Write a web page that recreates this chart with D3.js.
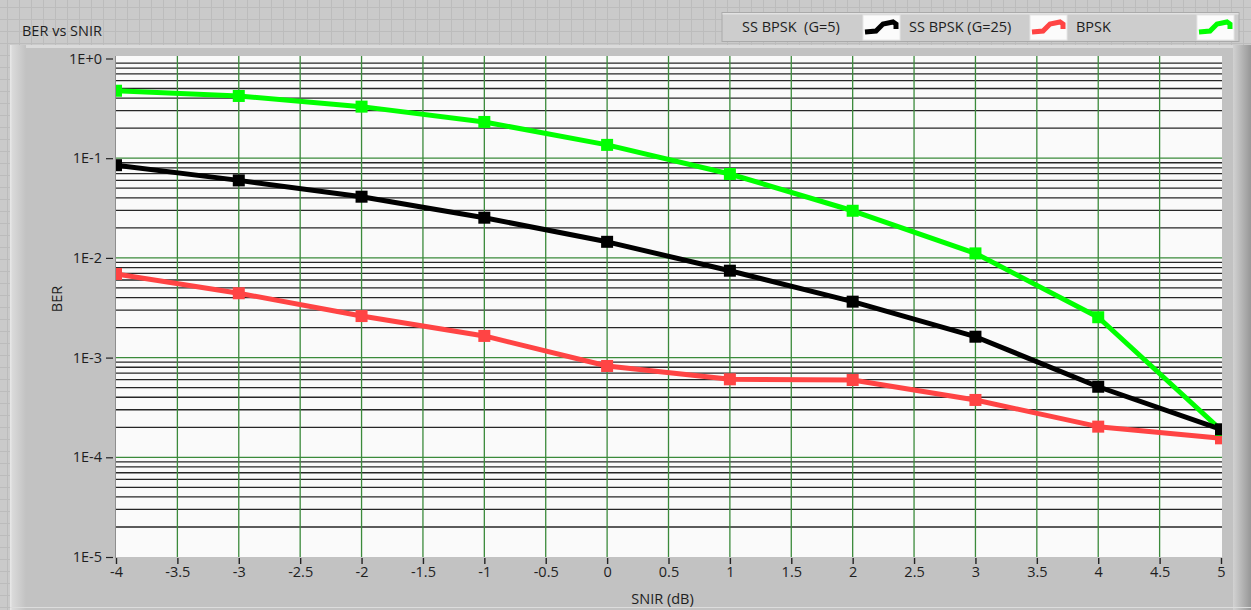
<!DOCTYPE html>
<html>
<head>
<meta charset="utf-8">
<script src="https://cdn.jsdelivr.net/npm/d3@7"></script>
<style>
  html, body { margin: 0; padding: 0; background: #c9c9c9; overflow: hidden; }
  svg { display: block; font-family: "Open Sans", "Noto Sans", sans-serif; }
  svg text { white-space: pre; }
</style>
</head>
<body>
<svg id="chart" width="1251" height="610"></svg>
<script>
// SNIR sweep (dB) and measured bit error rates
const snir = [-4, -3, -2, -1, 0, 1, 2, 3, 4, 5];
const berGain5  = [0.0851, 0.0599, 0.0411, 0.0253, 0.0145, 0.00744, 0.00364, 0.00162, 0.00051, 0.000191];
const berGain25 = [0.0069, 0.00442, 0.00261, 0.00165, 0.000824, 0.000606, 0.000596, 0.000376, 0.000203, 0.000155];
const berBpsk   = [0.475, 0.421, 0.329, 0.231, 0.136, 0.0694, 0.0297, 0.0111, 0.00254, 0.000188];

const seriesNames  = ["SS BPSK  (G=5)", "SS BPSK (G=25)", "BPSK"];
const seriesColors = ["#000000", "#ff4444", "#00ff00"];

const xTickValues = [-4, -3.5, -3, -2.5, -2, -1.5, -1, -0.5, 0, 0.5, 1, 1.5, 2, 2.5, 3, 3.5, 4, 4.5, 5];
const xTickLabels = ["-4", "-3.5", "-3", "-2.5", "-2", "-1.5", "-1", "-0.5", "0", "0.5", "1", "1.5", "2", "2.5", "3", "3.5", "4", "4.5", "5"];
const yTickValues = [1, 1e-1, 1e-2, 1e-3, 1e-4, 1e-5];
const yTickLabels = ["1E+0", "1E-1", "1E-2", "1E-3", "1E-4", "1E-5"];

const chartTitle = "BER vs SNIR";
const xTitle = "SNIR (dB)";
const yTitle = "BER";

const W = 1251, H = 610;
const plot = { left: 116, right: 1221, top: 58.5, bottom: 557 };
const FONT = 14.5;

const svg = d3.select("#chart");
const defs = svg.append("defs");

// ---- panel background with its alignment grid ----
svg.append("rect").attr("width", W).attr("height", H).attr("fill", "#cacaca");
const panelGrid = svg.append("g").attr("stroke", "#bcbcbc").attr("stroke-width", 1);
for (let gx = 7.5; gx < W; gx += 12) panelGrid.append("line").attr("x1", gx).attr("x2", gx).attr("y1", 0).attr("y2", H);
for (let gy = 7.5; gy < H; gy += 12) panelGrid.append("line").attr("x1", 0).attr("x2", W).attr("y1", gy).attr("y2", gy);

// ---- graph frame ----
const leftGrad = defs.append("linearGradient").attr("id", "leftBevel").attr("x1", 0).attr("x2", 1).attr("y1", 0).attr("y2", 0);
leftGrad.append("stop").attr("offset", 0).attr("stop-color", "#dedede");
leftGrad.append("stop").attr("offset", 1).attr("stop-color", "#c2c2c2");
const rightGrad = defs.append("linearGradient").attr("id", "rightBevel").attr("x1", 0).attr("x2", 1).attr("y1", 0).attr("y2", 0);
rightGrad.append("stop").attr("offset", 0).attr("stop-color", "#d2d2d2");
rightGrad.append("stop").attr("offset", 0.25).attr("stop-color", "#c4c4c4");
rightGrad.append("stop").attr("offset", 1).attr("stop-color", "#979797");

svg.append("rect").attr("x", 10).attr("y", 45).attr("width", W - 10).attr("height", H - 45).attr("fill", "#c2c2c2");
svg.append("rect").attr("x", 10).attr("y", 45).attr("width", W - 10).attr("height", 3).attr("fill", "#dadada");
svg.append("rect").attr("x", 10).attr("y", 45).attr("width", 16).attr("height", H - 45).attr("fill", "url(#leftBevel)");
svg.append("rect").attr("x", 10).attr("y", 45).attr("width", 1.5).attr("height", H - 45).attr("fill", "#e6e6e6");
svg.append("rect").attr("x", 1233).attr("y", 45).attr("width", 18).attr("height", H - 45).attr("fill", "url(#rightBevel)");
svg.append("rect").attr("x", 10).attr("y", H - 3).attr("width", W - 10).attr("height", 1).attr("fill", "#dcdcdc");

// ---- title label ----
svg.append("text").attr("x", 22).attr("y", 36)
  .attr("font-size", FONT).attr("fill", "#1e1e1e").text(chartTitle);

// ---- scales ----
const x = d3.scaleLinear().domain([-4, 5]).range([plot.left, plot.right]);
const y = d3.scaleLog().domain([1e-5, 1]).range([plot.bottom, plot.top]);

// ---- plot area ----
svg.append("rect")
  .attr("x", plot.left).attr("y", 56)
  .attr("width", plot.right - plot.left + 1).attr("height", plot.bottom - 56)
  .attr("fill", "#fafafa");
svg.append("line")
  .attr("x1", plot.left - 0.5).attr("x2", plot.left - 0.5)
  .attr("y1", 56).attr("y2", plot.bottom + 1)
  .attr("stroke", "#8e8e8e").attr("stroke-width", 1);

// minor log grid (2..9 within each decade)
const isDecade = v => Math.abs(Math.log10(v) - Math.round(Math.log10(v))) < 1e-9;
const minorVals = y.ticks().filter(v => !isDecade(v));
svg.append("g").selectAll("line").data(minorVals).join("line")
  .attr("x1", plot.left).attr("x2", plot.right + 1)
  .attr("y1", d => y(d)).attr("y2", d => y(d))
  .attr("stroke", "#262626").attr("stroke-width", 1.3);

// major grid: decades and half-dB steps
const gridGreen = "#3b8a3b";
svg.append("g").selectAll("line").data(yTickValues.slice(1, -1)).join("line")
  .attr("x1", plot.left).attr("x2", plot.right + 1)
  .attr("y1", d => y(d)).attr("y2", d => y(d))
  .attr("stroke", gridGreen).attr("stroke-width", 1.3);
svg.append("g").selectAll("line").data(xTickValues.slice(1, -1)).join("line")
  .attr("x1", d => x(d)).attr("x2", d => x(d))
  .attr("y1", 56).attr("y2", plot.bottom)
  .attr("stroke", gridGreen).attr("stroke-width", 1.3);

// ---- axes ----
const xAxis = d3.axisBottom(x)
  .tickValues(xTickValues)
  .tickFormat((d, i) => xTickLabels[i])
  .tickSize(6).tickPadding(3);
const gx = svg.append("g").attr("transform", `translate(0,${plot.bottom + 1})`).call(xAxis);
gx.select(".domain").remove();
gx.selectAll(".tick line").attr("stroke", "#222").attr("stroke-width", 1.4);
gx.selectAll(".tick text").attr("font-size", FONT).attr("font-family", "Open Sans").attr("fill", "#1e1e1e");

const yAxis = d3.axisLeft(y)
  .tickValues(yTickValues)
  .tickFormat((d, i) => yTickLabels[i])
  .tickSize(7).tickPadding(4);
const gy = svg.append("g").attr("transform", `translate(${plot.left - 3},0)`).call(yAxis);
gy.select(".domain").remove();
gy.selectAll(".tick line").attr("stroke", "#222").attr("stroke-width", 1.2);
gy.selectAll(".tick text").attr("font-size", FONT).attr("font-family", "Open Sans").attr("fill", "#1e1e1e");

svg.append("text")
  .attr("x", (plot.left + plot.right) / 2 - 6).attr("y", 604)
  .attr("text-anchor", "middle").attr("font-size", FONT).attr("fill", "#1e1e1e")
  .text(xTitle);
svg.append("text")
  .attr("transform", `translate(62,299) rotate(-90)`)
  .attr("text-anchor", "middle").attr("font-size", FONT).attr("fill", "#1e1e1e")
  .text(yTitle);

// ---- data series ----
defs.append("clipPath").attr("id", "plotClip").append("rect")
  .attr("x", plot.left).attr("y", 56)
  .attr("width", plot.right - plot.left + 1).attr("height", plot.bottom - 56);

const series = [
  { values: berGain25, color: seriesColors[1] },
  { values: berBpsk, color: seriesColors[2] },
  { values: berGain5, color: seriesColors[0] }
];
const line = d3.line().x(d => x(d[0])).y(d => y(d[1]));
const plotLayer = svg.append("g").attr("clip-path", "url(#plotClip)");
series.forEach(s => {
  const pts = snir.map((v, i) => [v, s.values[i]]);
  const g = plotLayer.append("g");
  g.append("path").datum(pts)
    .attr("d", line).attr("fill", "none")
    .attr("stroke", s.color).attr("stroke-width", 5)
    .attr("stroke-linejoin", "round");
  const m = 12;
  g.selectAll("rect").data(pts).join("rect")
    .attr("x", d => x(d[0]) - m / 2).attr("y", d => y(d[1]) - m / 2)
    .attr("width", m).attr("height", m).attr("fill", s.color);
});

// ---- legend ----
const legend = svg.append("g");
legend.append("rect").attr("x", 722).attr("y", 12.5).attr("width", 517).attr("height", 29)
  .attr("fill", "#cdcdcd").attr("stroke", "#aaaaaa").attr("stroke-width", 1);
legend.append("rect").attr("x", 722.5).attr("y", 13).attr("width", 516).attr("height", 1.5).attr("fill", "#e2e2e2");
const iconLine = d3.line();
const iconPts = [[2, 17], [13, 16], [20, 9], [30, 7], [33, 9], [33, 14]];
seriesNames.forEach((name, i) => {
  const x0 = 742 + i * 167;
  legend.append("text").attr("x", x0).attr("y", 32)
    .attr("font-size", FONT).attr("fill", "#1e1e1e").text(name);
  const sw = legend.append("g").attr("transform", `translate(${x0 + 121},15)`);
  sw.append("rect").attr("width", 37).attr("height", 25)
    .attr("fill", "#fbfbfb").attr("stroke", "#e6e6e6").attr("stroke-width", 1);
  sw.append("path").attr("d", iconLine(iconPts)).attr("fill", "none")
    .attr("stroke", seriesColors[i]).attr("stroke-width", 5)
    .attr("stroke-linejoin", "miter").attr("stroke-linecap", "butt");
});
</script>
</body>
</html>
